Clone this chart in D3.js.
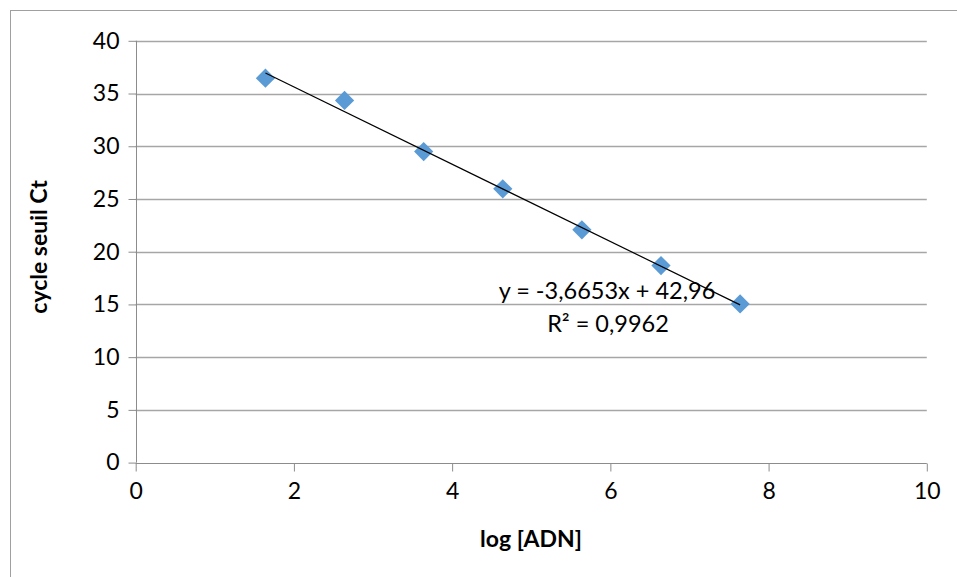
<!DOCTYPE html>
<html>
<head>
<meta charset="utf-8">
<script src="https://cdn.jsdelivr.net/npm/d3@7"></script>
<style>
  html, body { margin: 0; padding: 0; background: #fff; }
  svg { display: block; }
  text { font-family: Lato, "Open Sans", sans-serif; fill: #000; }
</style>
</head>
<body>
<svg id="chart" width="957" height="577"></svg>
<script>
// ---- data ----
const logADN = [1.64, 2.64, 3.64, 4.64, 5.64, 6.64, 7.64];
const ct = [36.46, 34.34, 29.5, 25.96, 22.07, 18.68, 15.05];
const xTicks = [0, 2, 4, 6, 8, 10];
const yTicks = [0, 5, 10, 15, 20, 25, 30, 35, 40];
const trendSlope = -3.6653;
const trendIntercept = 42.96;
const trendLabel = ["y = -3,6653x + 42,96", "R² = 0,9962"];
const xTitle = "log [ADN]";
const yTitle = "cycle seuil Ct";

// ---- layout ----
const svg = d3.select("#chart");
const x = d3.scaleLinear().domain([0, 10]).range([135.7, 926.8]);
const y = d3.scaleLinear().domain([0, 40]).range([462.6, 40.8]);
const gridColor = "#a6a6a6";
const axisColor = "#8c8c8c";
const fs = 23;

// outer chart border
svg.append("rect")
  .attr("x", 10.5).attr("y", 10.5)
  .attr("width", 1000).attr("height", 1000)
  .attr("fill", "none").attr("stroke", "#a0a0a0").attr("stroke-width", 1);

// horizontal gridlines
svg.append("g").selectAll("line")
  .data(yTicks.filter(d => d !== 0))
  .join("line")
  .attr("x1", x(0)).attr("x2", x(10))
  .attr("y1", d => Math.round(y(d)) + 0.5).attr("y2", d => Math.round(y(d)) + 0.5)
  .attr("stroke", gridColor).attr("stroke-width", 1.3);

// y axis
const yAxis = d3.axisLeft(y).tickValues(yTicks).tickSize(8).tickPadding(9).tickFormat(d3.format("d"));
const gy = svg.append("g").attr("transform", `translate(${Math.round(x(0)) + 0.5},0)`).call(yAxis);
gy.select(".domain").attr("stroke", axisColor).attr("d", `M0,${y(40)}V${y(0)}`);
gy.selectAll(".tick line").attr("stroke", axisColor);
gy.selectAll(".tick text").attr("font-size", fs).attr("font-family", "Lato, 'Open Sans', sans-serif");

// x axis
const xAxis = d3.axisBottom(x).tickValues(xTicks).tickSize(8).tickPadding(11).tickFormat(d3.format("d"));
const gx = svg.append("g").attr("transform", `translate(0,${Math.round(y(0)) + 0.5})`).call(xAxis);
gx.select(".domain").attr("stroke", axisColor).attr("d", `M${x(0)},0H${x(10)}`);
gx.selectAll(".tick line").attr("stroke", axisColor);
gx.selectAll(".tick text").attr("font-size", fs).attr("font-family", "Lato, 'Open Sans', sans-serif");

// markers
svg.append("g").selectAll("path")
  .data(logADN.map((v, i) => [v, ct[i]]))
  .join("path")
  .attr("d", d3.symbol(d3.symbolSquare, 185))
  .attr("transform", d => `translate(${x(d[0])},${y(d[1])}) rotate(45)`)
  .attr("fill", "#5b9bd5");

// trend line
const x0 = d3.min(logADN), x1 = d3.max(logADN);
svg.append("line")
  .attr("x1", x(x0)).attr("y1", y(trendSlope * x0 + trendIntercept))
  .attr("x2", x(x1)).attr("y2", y(trendSlope * x1 + trendIntercept))
  .attr("stroke", "#000").attr("stroke-width", 1.2);

// trend label
svg.append("text").attr("x", 607).attr("y", 299).attr("text-anchor", "middle")
  .attr("font-size", 23.5).text(trendLabel[0]);
svg.append("text").attr("x", 608).attr("y", 332).attr("text-anchor", "middle")
  .attr("font-size", 23.5).text(trendLabel[1]);

// axis titles
svg.append("text").attr("x", 531).attr("y", 547).attr("text-anchor", "middle")
  .attr("font-size", fs).attr("font-weight", "bold").text(xTitle);
svg.append("text").attr("transform", "translate(47,247) rotate(-90)").attr("text-anchor", "middle")
  .attr("font-size", fs).attr("font-weight", "bold").text(yTitle);
</script>
</body>
</html>
